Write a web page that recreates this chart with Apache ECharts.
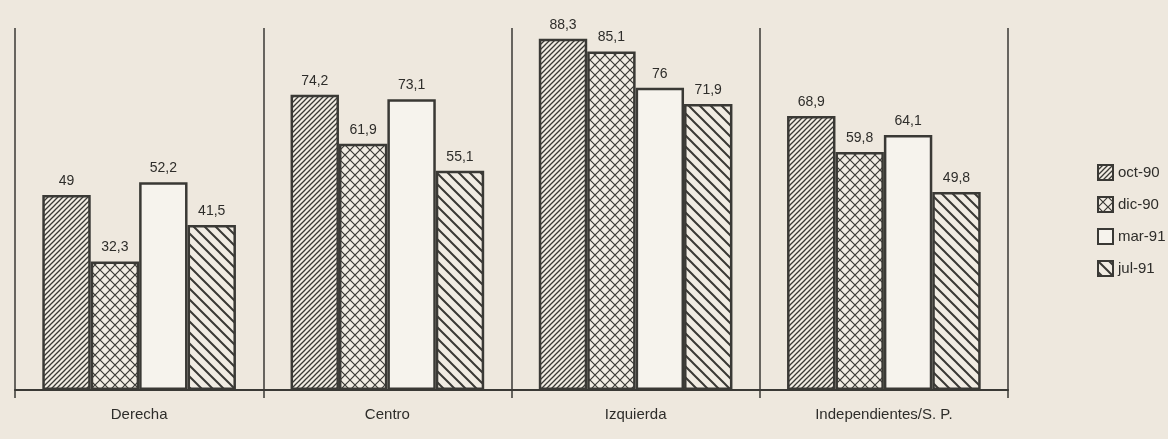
<!DOCTYPE html>
<html>
<head>
<meta charset="utf-8">
<script src="https://cdn.jsdelivr.net/npm/echarts@6/dist/echarts.min.js"></script>
<style>
html,body{margin:0;padding:0;background:#eee8de;}
#chart{width:1168px;height:439px;}
</style>
</head>
<body>
<div id="chart"></div>
<script>
// datos
var categorias = ['Derecha', 'Centro', 'Izquierda', 'Independientes/S. P.'];
var series_nombres = ['oct-90', 'dic-90', 'mar-91', 'jul-91'];
var oct90 = [49, 74.2, 88.3, 68.9];
var dic90 = [32.3, 61.9, 85.1, 59.8];
var mar91 = [52.2, 73.1, 76, 64.1];
var jul91 = [41.5, 55.1, 71.9, 49.8];

var tinta = '#3a3935';
var fondo = '#eee8de';

// tramas de relleno
function trama(size, dibujar){
    var c = document.createElement('canvas');
    c.width = size; c.height = size;
    var ctx = c.getContext('2d');
    ctx.fillStyle = '#f1ece3';
    ctx.fillRect(0, 0, size, size);
    ctx.strokeStyle = tinta;
    dibujar(ctx, size);
    return {image: c, repeat: 'repeat'};
}
var rayasFinas = trama(5, function(ctx, s){
    ctx.lineWidth = 1.3;
    ctx.beginPath();
    ctx.moveTo(-1, s + 1); ctx.lineTo(s + 1, -1);
    ctx.moveTo(-1, 1); ctx.lineTo(1, -1);
    ctx.moveTo(s - 1, s + 1); ctx.lineTo(s + 1, s - 1);
    ctx.stroke();
});
var cuadricula = trama(10, function(ctx, s){
    ctx.lineWidth = 1.2;
    ctx.beginPath();
    ctx.moveTo(0, 0); ctx.lineTo(s, s);
    ctx.moveTo(0, s); ctx.lineTo(s, 0);
    ctx.stroke();
});
var rayasGruesas = trama(11, function(ctx, s){
    ctx.lineWidth = 2;
    ctx.beginPath();
    ctx.moveTo(-1, -1); ctx.lineTo(s + 1, s + 1);
    ctx.moveTo(-1, s - 1); ctx.lineTo(1, s + 1);
    ctx.moveTo(s - 1, -1); ctx.lineTo(s + 1, 1);
    ctx.stroke();
});
var rellenos = [rayasFinas, cuadricula, '#f6f3ed', rayasGruesas];
var valores = [oct90, dic90, mar91, jul91];

var chart = echarts.init(document.getElementById('chart'));

var series = series_nombres.map(function(nombre, i){
    return {
        name: nombre,
        type: 'bar',
        data: valores[i],
        barGap: '0%',
        barCategoryGap: '22%',
        itemStyle: {color: rellenos[i], borderColor: tinta, borderWidth: 2.5},
        label: {
            show: true,
            position: 'top',
            distance: 7,
            color: '#2e2d2a',
            fontSize: 14,
            fontFamily: 'Liberation Sans',
            formatter: function(p){ return String(p.value).replace('.', ','); }
        }
    };
});

var option = {
    backgroundColor: fondo,
    animation: false,
    grid: {left: 15, right: 160, top: 28, bottom: 49},
    legend: {
        orient: 'vertical',
        left: 1092,
        top: 159,
        icon: 'rect',
        itemWidth: 15,
        itemHeight: 15,
        itemGap: 15,
        data: series_nombres,
        textStyle: {color: '#2e2d2a', fontSize: 15, fontFamily: 'Liberation Sans'}
    },
    xAxis: {
        type: 'category',
        data: categorias,
        axisLine: {lineStyle: {color: tinta, width: 2}},
        axisTick: {show: true, length: 8, lineStyle: {color: tinta, width: 1.5}},
        splitLine: {show: true, lineStyle: {color: tinta, width: 1.5}},
        axisLabel: {color: '#2e2d2a', fontSize: 15, fontFamily: 'Liberation Sans', margin: 17}
    },
    yAxis: {
        type: 'value',
        min: 0,
        max: 91,
        show: false,
        splitLine: {show: false}
    },
    series: series
};
chart.setOption(option);
</script>
</body>
</html>
